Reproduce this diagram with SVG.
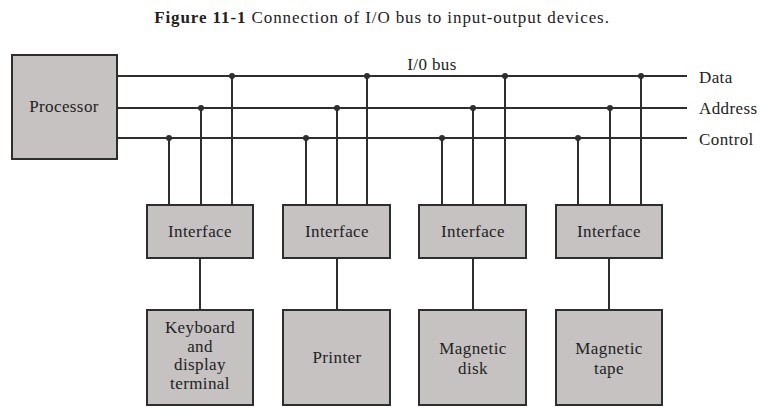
<svg xmlns="http://www.w3.org/2000/svg" width="764" height="420" viewBox="0 0 764 420">
<style>
.box{fill:#c6c2c2;stroke:#2e2e2e;stroke-width:2}
.ln{stroke:#2e2e2e;stroke-width:2;fill:none}
.dot{fill:#2e2e2e}
text{font-family:"Liberation Serif","DejaVu Serif",serif;fill:#222;font-size:17px;letter-spacing:0.4px}
.c{text-anchor:middle}
</style>
<rect width="764" height="420" fill="#ffffff"/>
<text x="382" y="23" class="c" style="letter-spacing:0.9px"><tspan font-weight="bold">Figure 11-1</tspan>   Connection of I/O bus to input-output devices.</text>
<g id="connectors">
<line class="ln" x1="117" y1="76" x2="687" y2="76"/>
<line class="ln" x1="117" y1="108" x2="687" y2="108"/>
<line class="ln" x1="117" y1="138" x2="687" y2="138"/>
<path class="ln" d="M169 138V205M201 108V205M232 76V205M306 138V205M337 108V205M367 76V205M442 138V205M473 108V205M505 76V205M578 138V205M610 108V205M641 76V205"/>
<path class="ln" d="M200 258V310M337 258V310M473 258V310M609 258V310"/>
<g class="dot">
<circle cx="169" cy="138" r="3"/><circle cx="201" cy="108" r="3"/><circle cx="232" cy="76" r="3"/>
<circle cx="306" cy="138" r="3"/><circle cx="337" cy="108" r="3"/><circle cx="367" cy="76" r="3"/>
<circle cx="442" cy="138" r="3"/><circle cx="473" cy="108" r="3"/><circle cx="505" cy="76" r="3"/>
<circle cx="578" cy="138" r="3"/><circle cx="610" cy="108" r="3"/><circle cx="641" cy="76" r="3"/>
</g>
<text x="432" y="70" class="c">I/0 bus</text>
<text x="699" y="83">Data</text>
<text x="699" y="114">Address</text>
<text x="699" y="145">Control</text>
</g>
<g id="processor"><rect class="box" x="12" y="55" width="105" height="104"/><text x="64" y="112" class="c">Processor</text></g>
<g id="interface1"><rect class="box" x="147" y="205" width="106" height="53"/><text x="200" y="237" class="c">Interface</text></g>
<g id="interface2"><rect class="box" x="283" y="205" width="107" height="53"/><text x="337" y="237" class="c">Interface</text></g>
<g id="interface3"><rect class="box" x="419" y="205" width="107" height="53"/><text x="473" y="237" class="c">Interface</text></g>
<g id="interface4"><rect class="box" x="556" y="205" width="106" height="53"/><text x="609" y="237" class="c">Interface</text></g>
<g id="keyboard"><rect class="box" x="147" y="310" width="106" height="95"/>
<text x="200" y="333" class="c">Keyboard</text><text x="200" y="352" class="c">and</text><text x="200" y="370" class="c">display</text><text x="200" y="389" class="c">terminal</text></g>
<g id="printer"><rect class="box" x="283" y="310" width="107" height="95"/><text x="337" y="363" class="c">Printer</text></g>
<g id="disk"><rect class="box" x="419" y="310" width="107" height="95"/><text x="473" y="354" class="c">Magnetic</text><text x="473" y="374" class="c">disk</text></g>
<g id="tape"><rect class="box" x="556" y="310" width="106" height="95"/><text x="609" y="354" class="c">Magnetic</text><text x="609" y="374" class="c">tape</text></g>
</svg>
